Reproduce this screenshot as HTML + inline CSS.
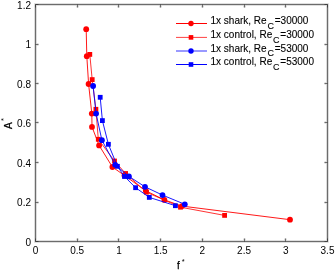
<!DOCTYPE html>
<html><head><meta charset="utf-8"><style>
html,body{margin:0;padding:0;background:#fff;}
body{width:335px;height:270px;overflow:hidden;}
svg{display:block;will-change:transform;}
text{-webkit-font-smoothing:antialiased;}
text{font-family:"Liberation Sans",sans-serif;font-size:10px;fill:#000;}
</style></head><body>
<svg width="335" height="270" viewBox="0 0 335 270">
<rect width="335" height="270" fill="#fff"/>
<path d="M35.5,4.5H327.5V241.5H35.5ZM35.5,241.5V238.5M35.5,4.5V7.5M77.5,241.5V238.5M77.5,4.5V7.5M118.5,241.5V238.5M118.5,4.5V7.5M160.5,241.5V238.5M160.5,4.5V7.5M202.5,241.5V238.5M202.5,4.5V7.5M244.5,241.5V238.5M244.5,4.5V7.5M285.5,241.5V238.5M285.5,4.5V7.5M327.5,241.5V238.5M327.5,4.5V7.5M35.5,241.5H38.5M327.5,241.5H324.5M35.5,202.5H38.5M327.5,202.5H324.5M35.5,162.5H38.5M327.5,162.5H324.5M35.5,122.5H38.5M327.5,122.5H324.5M35.5,83.5H38.5M327.5,83.5H324.5M35.5,44.5H38.5M327.5,44.5H324.5M35.5,4.5H38.5M327.5,4.5H324.5" fill="none" stroke="#262626" stroke-opacity="0.2" stroke-width="2.6"/>
<path d="M35.5,4.5H327.5V241.5H35.5ZM35.5,241.5V238.5M35.5,4.5V7.5M77.5,241.5V238.5M77.5,4.5V7.5M118.5,241.5V238.5M118.5,4.5V7.5M160.5,241.5V238.5M160.5,4.5V7.5M202.5,241.5V238.5M202.5,4.5V7.5M244.5,241.5V238.5M244.5,4.5V7.5M285.5,241.5V238.5M285.5,4.5V7.5M327.5,241.5V238.5M327.5,4.5V7.5M35.5,241.5H38.5M327.5,241.5H324.5M35.5,202.5H38.5M327.5,202.5H324.5M35.5,162.5H38.5M327.5,162.5H324.5M35.5,122.5H38.5M327.5,122.5H324.5M35.5,83.5H38.5M327.5,83.5H324.5M35.5,44.5H38.5M327.5,44.5H324.5M35.5,4.5H38.5M327.5,4.5H324.5" fill="none" stroke="#262626" stroke-opacity="0.6" stroke-width="1"/>
<text x="35.50" y="254" text-anchor="middle">0</text>
<text x="77.21" y="254" text-anchor="middle">0.5</text>
<text x="118.93" y="254" text-anchor="middle">1</text>
<text x="160.64" y="254" text-anchor="middle">1.5</text>
<text x="202.36" y="254" text-anchor="middle">2</text>
<text x="244.07" y="254" text-anchor="middle">2.5</text>
<text x="285.79" y="254" text-anchor="middle">3</text>
<text x="327.50" y="254" text-anchor="middle">3.5</text>
<text x="31" y="245.60" text-anchor="end">0</text>
<text x="31" y="206.10" text-anchor="end">0.2</text>
<text x="31" y="166.60" text-anchor="end">0.4</text>
<text x="31" y="127.10" text-anchor="end">0.6</text>
<text x="31" y="87.60" text-anchor="end">0.8</text>
<text x="31" y="48.10" text-anchor="end">1</text>
<text x="31" y="8.60" text-anchor="end">1.2</text>
<text x="177" y="269" style="stroke:#000;stroke-width:0.25px">f</text><text x="181.7" y="263.7" style="font-size:7.5px">*</text>
<g transform="translate(12,129) rotate(-90)"><text x="0" y="0" style="stroke:#000;stroke-width:0.25px">A</text><text x="8.1" y="-6.2" style="font-size:7.5px">*</text></g>
<polyline points="86.20,29.20 86.80,56.20 88.60,84.00 91.80,113.60 92.00,126.90 99.10,145.40 112.40,167.00 124.50,175.50 145.80,190.80 164.40,199.90 182.00,206.10 290.00,219.70" fill="none" stroke="#ff0000" stroke-opacity="0.9" stroke-width="1.0" stroke-linejoin="round"/>
<circle cx="86.20" cy="29.20" r="2.9" fill="#ff0000"/><circle cx="86.80" cy="56.20" r="2.9" fill="#ff0000"/><circle cx="88.60" cy="84.00" r="2.9" fill="#ff0000"/><circle cx="91.80" cy="113.60" r="2.9" fill="#ff0000"/><circle cx="92.00" cy="126.90" r="2.9" fill="#ff0000"/><circle cx="99.10" cy="145.40" r="2.9" fill="#ff0000"/><circle cx="112.40" cy="167.00" r="2.9" fill="#ff0000"/><circle cx="124.50" cy="175.50" r="2.9" fill="#ff0000"/><circle cx="145.80" cy="190.80" r="2.9" fill="#ff0000"/><circle cx="164.40" cy="199.90" r="2.9" fill="#ff0000"/><circle cx="182.00" cy="206.10" r="2.9" fill="#ff0000"/><circle cx="290.00" cy="219.70" r="2.9" fill="#ff0000"/>
<polyline points="89.80,54.40 92.20,79.60 95.90,109.30 98.30,139.30 114.50,161.00 125.60,173.50 146.40,192.20 180.50,207.20 224.60,215.40" fill="none" stroke="#ff0000" stroke-opacity="0.8" stroke-width="1.0" stroke-linejoin="round"/>
<rect x="87.40" y="52.00" width="4.8" height="4.8" fill="#ff0000"/><rect x="89.80" y="77.20" width="4.8" height="4.8" fill="#ff0000"/><rect x="93.50" y="106.90" width="4.8" height="4.8" fill="#ff0000"/><rect x="95.90" y="136.90" width="4.8" height="4.8" fill="#ff0000"/><rect x="112.10" y="158.60" width="4.8" height="4.8" fill="#ff0000"/><rect x="123.20" y="171.10" width="4.8" height="4.8" fill="#ff0000"/><rect x="144.00" y="189.80" width="4.8" height="4.8" fill="#ff0000"/><rect x="178.10" y="204.80" width="4.8" height="4.8" fill="#ff0000"/><rect x="222.20" y="213.00" width="4.8" height="4.8" fill="#ff0000"/>
<polyline points="93.10,86.00 96.10,113.60 101.90,140.20 115.20,164.80 128.90,176.40 145.00,186.80 162.50,195.10 184.80,204.30" fill="none" stroke="#0000ff" stroke-opacity="0.9" stroke-width="1.0" stroke-linejoin="round"/>
<circle cx="93.10" cy="86.00" r="2.9" fill="#0000ff"/><circle cx="96.10" cy="113.60" r="2.9" fill="#0000ff"/><circle cx="101.90" cy="140.20" r="2.9" fill="#0000ff"/><circle cx="115.20" cy="164.80" r="2.9" fill="#0000ff"/><circle cx="128.90" cy="176.40" r="2.9" fill="#0000ff"/><circle cx="145.00" cy="186.80" r="2.9" fill="#0000ff"/><circle cx="162.50" cy="195.10" r="2.9" fill="#0000ff"/><circle cx="184.80" cy="204.30" r="2.9" fill="#0000ff"/>
<polyline points="100.20,97.30 102.40,120.60 108.40,144.30 117.40,166.30 124.50,176.50 135.60,187.70 149.30,197.40 175.40,205.70" fill="none" stroke="#0000ff" stroke-opacity="0.9" stroke-width="1.0" stroke-linejoin="round"/>
<rect x="97.80" y="94.90" width="4.8" height="4.8" fill="#0000ff"/><rect x="100.00" y="118.20" width="4.8" height="4.8" fill="#0000ff"/><rect x="106.00" y="141.90" width="4.8" height="4.8" fill="#0000ff"/><rect x="115.00" y="163.90" width="4.8" height="4.8" fill="#0000ff"/><rect x="122.10" y="174.10" width="4.8" height="4.8" fill="#0000ff"/><rect x="133.20" y="185.30" width="4.8" height="4.8" fill="#0000ff"/><rect x="146.90" y="195.00" width="4.8" height="4.8" fill="#0000ff"/><rect x="173.00" y="203.30" width="4.8" height="4.8" fill="#0000ff"/>
<line x1="176" y1="23.5" x2="207" y2="23.5" stroke="#ff0000" stroke-opacity="1"/>
<circle cx="191.00" cy="23.50" r="2.7" fill="#ff0000"/>
<text x="210.5" y="24.20" style="stroke:#000;stroke-width:0.1px">1x shark, Re<tspan dx="0.9" dy="4.9" font-size="9">C</tspan><tspan dx="0.7" dy="-4.9">=30000</tspan></text>
<line x1="176" y1="37.4" x2="207" y2="37.4" stroke="#ff0000" stroke-opacity="0.75"/>
<rect x="188.70" y="35.10" width="4.6" height="4.6" fill="#ff0000"/>
<text x="210.5" y="37.87" style="stroke:#000;stroke-width:0.1px">1x control, Re<tspan dx="0.9" dy="4.9" font-size="9">C</tspan><tspan dx="0.7" dy="-4.9">=30000</tspan></text>
<line x1="176" y1="51.0" x2="207" y2="51.0" stroke="#0000ff" stroke-opacity="0.8"/>
<circle cx="191.00" cy="51.00" r="2.7" fill="#0000ff"/>
<text x="210.5" y="51.54" style="stroke:#000;stroke-width:0.1px">1x shark, Re<tspan dx="0.9" dy="4.9" font-size="9">C</tspan><tspan dx="0.7" dy="-4.9">=53000</tspan></text>
<line x1="176" y1="64.5" x2="207" y2="64.5" stroke="#0000ff" stroke-opacity="1"/>
<rect x="188.70" y="62.20" width="4.6" height="4.6" fill="#0000ff"/>
<text x="210.5" y="65.21" style="stroke:#000;stroke-width:0.1px">1x control, Re<tspan dx="0.9" dy="4.9" font-size="9">C</tspan><tspan dx="0.7" dy="-4.9">=53000</tspan></text>
</svg></body></html>
